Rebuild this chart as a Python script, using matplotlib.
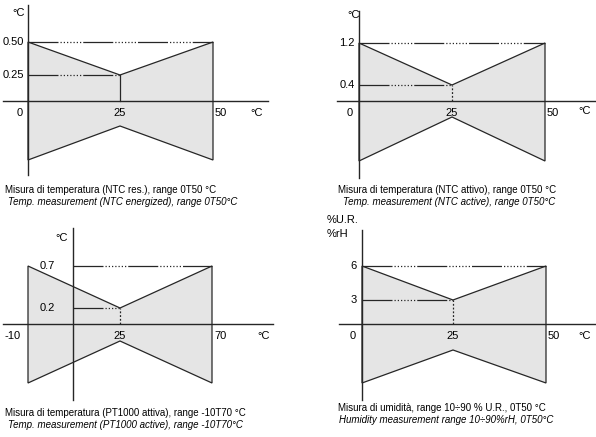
import numpy as np
import matplotlib
matplotlib.use("Agg")
import matplotlib.pyplot as plt

plt.rcParams['font.family'] = ['Liberation Sans Narrow', 'Liberation Sans', 'DejaVu Sans']

# ---- data: error band (upper limit, lower = -upper) vs temperature ----
x_ntc = [0, 25, 50]
err_ntc_res = [0.50, 0.25, 0.50]
err_ntc_act = [1.2, 0.4, 1.2]
x_pt = [-10, 25, 70]
err_pt = [0.7, 0.2, 0.7]
x_rh = [0, 25, 50]
err_rh = [6, 3, 6]

ytick_ntc_res = ["0.50", "0.25"]
ytick_ntc_act = ["1.2", "0.4"]
ytick_pt = ["0.7", "0.2"]
ytick_rh = ["6", "3"]

captions = [
    ("Misura di temperatura (NTC res.), range 0T50 °C",
     "Temp. measurement (NTC energized), range 0T50°C"),
    ("Misura di temperatura (NTC attivo), range 0T50 °C",
     "Temp. measurement (NTC active), range 0T50°C"),
    ("Misura di temperatura (PT1000 attiva), range -10T70 °C",
     "Temp. measurement (PT1000 active), range -10T70°C"),
    ("Misura di umidità, range 10÷90 % U.R., 0T50 °C",
     "Humidity measurement range 10÷90%rH, 0T50°C"),
]

W, H = 596, 437
fig = plt.figure(figsize=(W / 100, H / 100), dpi=100)
LINE = '#262626'
FILL = '#e5e5e5'
# long solid stretch followed by a run of dots
DASH = (0, (24, 1.6) + (1, 1.6) * 7)
FS = 8


def pw(dk, pk):
    # piecewise linear scale (schematic diagram spacing)
    dk = np.asarray(dk, float)
    pk = np.asarray(pk, float)

    def conv(v, a, b):
        v = np.asarray(v, float)
        out = np.interp(v, a, b)
        out = np.where(v < a[0], b[0] + (v - a[0]) * (b[1] - b[0]) / (a[1] - a[0]), out)
        out = np.where(v > a[-1], b[-1] + (v - a[-1]) * (b[-1] - b[-2]) / (a[-1] - a[-2]), out)
        return out
    return (lambda v: conv(v, dk, pk)), (lambda u: conv(u, pk, dk))


def panel(box, xs, err, xpx, ypx, yticks, vstyle, lab):
    l, t, r, b = box
    ax = fig.add_axes([l / W, 1 - b / H, (r - l) / W, (b - t) / H])
    ax.patch.set_alpha(0)
    err = np.asarray(err, float)
    xk = sorted(set([xs[0], 0, xs[1], xs[2]]))
    fx, ix = pw(xk, xpx)
    yk = [-err[0], -err[1], 0, err[1], err[0]]
    fy, iy = pw(yk, [-p for p in ypx])
    ax.set_xscale('function', functions=(fx, ix))
    ax.set_yscale('function', functions=(fy, iy))
    ax.set_xlim(float(ix(l)), float(ix(r)))
    ax.set_ylim(float(iy(-b)), float(iy(-t)))

    # band
    px = list(xs) + list(xs[::-1])
    py = list(err) + list(-err[::-1])
    ax.fill(px, py, facecolor=FILL, edgecolor=LINE, lw=0.9, zorder=1)

    # reference lines
    ax.plot([0, xs[2]], [err[2], err[2]], color=LINE, lw=0.9, ls=DASH, zorder=2)
    ax.plot([0, xs[1]], [err[1], err[1]], color=LINE, lw=0.9, ls=DASH, zorder=2)
    ax.plot([xs[1], xs[1]], [0, err[1]], color=LINE, lw=0.9, ls=vstyle, zorder=2)

    for s in ['top', 'right']:
        ax.spines[s].set_visible(False)
    ax.spines['left'].set_position(('data', 0))
    ax.spines['bottom'].set_position(('data', 0))
    for s in ['left', 'bottom']:
        ax.spines[s].set_color(LINE)
        ax.spines[s].set_linewidth(1.0)
        ax.spines[s].set_zorder(3)
    ax.set_xticks([])
    ax.set_yticks([])

    # tick labels
    yl_dx = lab.get('ydx', -4)
    ax.annotate(yticks[0], (0, err[2]), xytext=(yl_dx, 0), textcoords='offset pixels',
                ha='right', va='center', fontsize=FS)
    ax.annotate(yticks[1], (0, err[1]), xytext=(yl_dx, 0), textcoords='offset pixels',
                ha='right', va='center', fontsize=FS)
    xl = lab['xl']
    ax.annotate(str(xs[0]), (xs[0], 0), xytext=(lab.get('x0dx', -4), -12), textcoords='offset pixels',
                ha='right', va='center', fontsize=FS)
    ax.annotate(str(xs[1]), (xs[1], 0), xytext=(0, -12), textcoords='offset pixels',
                ha='center', va='center', fontsize=FS)
    ax.annotate(str(xs[2]), (xs[2], 0), xytext=(2, -12), textcoords='offset pixels',
                ha='left', va='center', fontsize=FS)
    fig.text(xl[0] / W, 1 - xl[1] / H, "°C", ha='left', va='center', fontsize=FS)
    yl = lab['yl']
    fig.text(yl[0] / W, 1 - yl[1] / H, yl[2], ha='left', va='center', fontsize=FS,
             linespacing=1.45)
    return ax


panel((3, 5, 268, 175), x_ntc, err_ntc_res, [28, 120, 213], [160, 126, 101, 75, 42],
      ytick_ntc_res, '-', dict(xl=(250, 113), yl=(12, 13, "°C"), x0dx=-5))
panel((337, 11, 596, 178), x_ntc, err_ntc_act, [359, 452, 545], [161, 117, 101, 85, 43],
      ytick_ntc_act, (0, (1.5, 1.5)), dict(xl=(578, 111), yl=(347, 15, "°C"), x0dx=-6))
panel((3, 228, 273, 400), x_pt, err_pt, [28, 73, 120, 212], [383, 341, 324, 308, 266],
      ytick_pt, (0, (1.5, 1.5)), dict(xl=(257, 336), yl=(55, 238, "°C"), ydx=-18, x0dx=-7))
panel((339, 230, 596, 400), x_rh, err_rh, [362, 453, 546], [383, 350, 324, 300, 266],
      ytick_rh, (0, (1.5, 1.5)), dict(xl=(578, 336), yl=(327, 227, "%U.R.\n%rH"), ydx=-5, x0dx=-6))

cap_pos = [(5, 190, 8, 202), (338, 190, 343, 202), (5, 413, 8, 425), (338, 408, 339, 420)]
for (c1, c2), (x1, y1, x2, y2) in zip(captions, cap_pos):
    fig.text(x1 / W, 1 - y1 / H, c1, ha='left', va='center', fontsize=7.0)
    fig.text(x2 / W, 1 - y2 / H, c2, ha='left', va='center', fontsize=7.0, style='italic')

fig.savefig('out.png', dpi=100)
